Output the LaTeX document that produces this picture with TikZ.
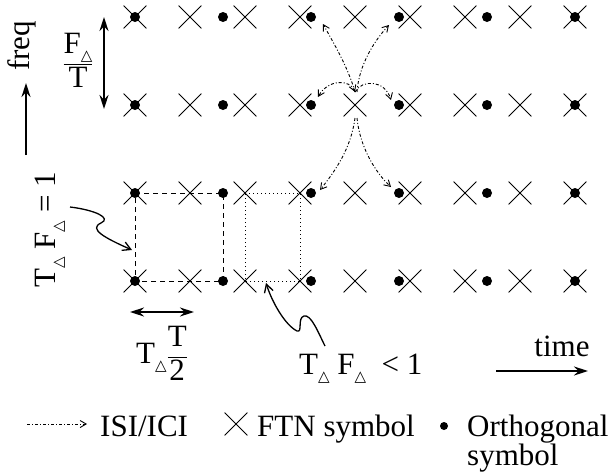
\documentclass[tikz,border=0pt]{standalone}
\usepackage{fontspec}
\setmainfont{Liberation Serif}
\newfontfamily\dejavu{DejaVu Sans}
\usetikzlibrary{shapes.misc,arrows.meta,calc}
\newcommand\tri{\raisebox{-0.25em}{\fontsize{15}{15}\selectfont\dejavu △}}
\tikzset{
  ftn/.style={cross out, draw, minimum size=22pt, inner sep=0pt, line width=0.8pt},
  orth/.style={circle, fill, minimum size=10pt, inner sep=0pt},
  legdot/.style={circle, fill, minimum size=8pt, inner sep=0pt},
  dashrect/.style={line width=0.9pt, dash pattern=on 5pt off 4pt},
  dotrect/.style={line width=0.9pt, dash pattern=on 1pt off 3pt},
  isi/.style={line width=0.9pt, dash pattern=on 3pt off 2pt on 1pt off 2pt, -{Straight Barb[length=6pt,width=7pt]}},
  isiboth/.style={isi, {Straight Barb[length=6pt,width=7pt]}-{Straight Barb[length=6pt,width=7pt]}},
  axisarrow/.style={line width=1.6pt, -{Stealth[length=14pt,width=9pt]}},
  dblarrow/.style={line width=1.6pt, {Stealth[length=14pt,width=9pt]}-{Stealth[length=14pt,width=9pt]}},
  pointer/.style={line width=1.3pt, -{Straight Barb[length=8pt,width=9pt]}},
  lbl/.style={font=\fontsize{31}{32}\selectfont, inner sep=0pt}
}
\begin{document}
\begin{tikzpicture}[x=1pt,y=-1pt]
\useasboundingbox (0,0) rectangle (613,472);
% grid of FTN symbols
\foreach \r in {0,...,3}{
  \foreach \k in {0,...,8}{
    \node[ftn] (x-\k-\r) at ({135+55*\k},{17+88*\r}) {};
  }
  \foreach \j in {0,...,5}{
    \node[orth] (d-\j-\r) at ({135+88*\j},{17+88*\r}) {};
  }
}
% rectangles
\draw[dashrect] (x-0-2.center) -- (d-1-2.center) -- (d-1-3.center) -- (x-0-3.center) -- cycle;
\draw[dotrect] (x-2-2.center) -- (x-3-2.center) -- (x-3-3.center) -- (x-2-3.center) -- cycle;
% ISI / ICI arrows from the centre symbol
\coordinate (ct) at ($(x-4-1.center)+(0,-13)$);
\coordinate (cb) at ($(x-4-1.center)+(0,13)$);
\coordinate (e1) at ($(d-2-0.center)+(12,7)$);
\coordinate (e2) at ($(d-3-0.center)+(-10,8)$);
\coordinate (e3) at ($(d-2-1.center)+(7,-8)$);
\coordinate (e4) at ($(d-3-1.center)+(-8,-5)$);
\coordinate (e5) at ($(d-2-2.center)+(9,-3)$);
\coordinate (e6) at ($(d-3-2.center)+(-8,-6)$);
\draw[isi] (ct) .. controls ($(ct)+(-7,-25)$) and ($(e1)+(10,18)$) .. (e1);
\draw[isi] ($(ct)+(2,0)$) .. controls ($(ct)+(4,-28)$) and ($(e2)+(-14,15)$) .. (e2);
\draw[isiboth] (ct) .. controls ($(ct)+(-5,-13)$) and ($(e3)+(10,-18)$) .. (e3);
\draw[isi] (ct) .. controls ($(ct)+(7,-13)$) and ($(e4)+(-6,-20)$) .. (e4);
\draw[isi] (cb) .. controls ($(cb)+(-4,30)$) and ($(e5)+(16,-20)$) .. (e5);
\draw[isi] ($(cb)+(2,0)$) .. controls ($(cb)+(5,30)$) and ($(e6)+(-15,-14)$) .. (e6);
% frequency axis
\coordinate (fa0) at (26,155);
\coordinate (fa1) at (26,83);
\draw[axisarrow] (fa0) -- (fa1);
\node[lbl, rotate=90] (freq) at (22,46) {freq};
% F/T spacing
\coordinate (fs0) at (104,17);
\coordinate (fs1) at (104,109);
\draw[dblarrow] (fs0) -- (fs1);
\node[lbl] (fdt) at (78,60) {$\displaystyle\frac{\mbox{F\tri}}{\mbox{T}}$};
% T F = 1
\node[lbl, rotate=90] (tf1) at (50,230) {T\tri\ F\tri\ = 1};
\coordinate (p1s) at (70,207);
\coordinate (p1e) at (132,250);
\draw[pointer] (p1s) .. controls (95,210) and (112,218) .. (101,223)
  .. controls (88,229) and (105,238) .. (p1e);
% T/2 spacing
\coordinate (ts0) at (130,312);
\coordinate (ts1) at (194,312);
\draw[dblarrow] (ts0) -- (ts1);
\node[lbl] (tt2) at (162,353) {T\tri$\displaystyle\frac{\mbox{T}}{\mbox{2}}$};
% T F < 1
\node[lbl, anchor=base west] (tfl) at (299,374) {T\tri\ F\tri\ \ < 1};
\coordinate (p2s) at (325,346);
\coordinate (p2e) at (266,283);
\draw[pointer] (p2s) .. controls (318,332) and (311,314) .. (304,316)
  .. controls (297,318) and (303,333) .. (297,331)
  .. controls (285,325) and (272,302) .. (p2e);
% time axis
\coordinate (ta0) at (496,371);
\coordinate (ta1) at (588,371);
\draw[axisarrow] (ta0) -- (ta1);
\node[lbl, anchor=base] (time) at (562,356) {time};
% legend
\coordinate (la0) at (27,424);
\coordinate (la1) at (87,424);
\draw[isi] (la0) -- (la1);
\node[lbl, anchor=base west] (lisi) at (100,436) {ISI/ICI};
\node[ftn] (lx) at (236,424) {};
\node[lbl, anchor=base west] (lftn) at (257,436) {FTN symbol};
\node[legdot] (ld) at (444,426) {};
\node[lbl, anchor=north west, align=left, font=\fontsize{31}{27}\selectfont] (lorth) at (467,415) {Orthogonal\\symbol};
\end{tikzpicture}
\end{document}
